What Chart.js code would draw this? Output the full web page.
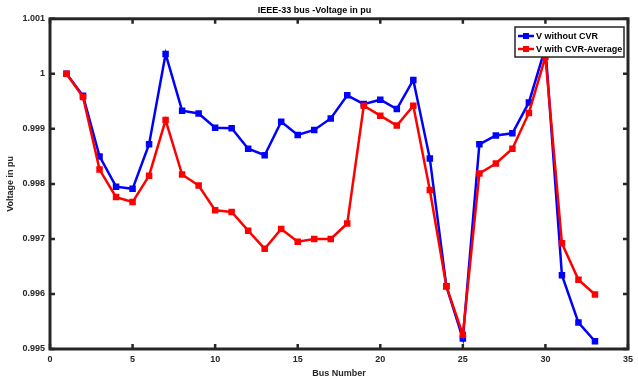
<!DOCTYPE html>
<html>
<head>
<meta charset="utf-8">
<script src="https://cdn.jsdelivr.net/npm/chart.js@4"></script>
<style>
  html, body { margin: 0; padding: 0; background: #fff; }
  #wrap { width: 638px; height: 379px; }
</style>
</head>
<body>
<div id="wrap"><canvas id="myChart" width="638" height="379"></canvas></div>
<script>
// bus numbers 1..33
const busNo = [1,2,3,4,5,6,7,8,9,10,11,12,13,14,15,16,17,18,19,20,21,22,23,24,25,26,27,28,29,30,31,32,33];

const vNoCvr = [1.0000, 0.99960, 0.99850, 0.99795, 0.99791, 0.99872, 1.00036, 0.99933, 0.99928, 0.99902,
                0.99901, 0.99864, 0.99852, 0.99913, 0.99889, 0.99898, 0.99919, 0.99961, 0.99945, 0.99953,
                0.99936, 0.99989, 0.99846, 0.99614, 0.99519, 0.99872, 0.99888, 0.99892, 0.99948, 1.00048,
                0.99634, 0.99548, 0.99514];

const vCvrAvg = [1.0000, 0.99958, 0.99826, 0.99776, 0.99767, 0.99815, 0.99916, 0.99817, 0.99797, 0.99752,
                 0.99749, 0.99715, 0.99682, 0.99718, 0.99695, 0.99700, 0.99700, 0.99728, 0.99942, 0.99924,
                 0.99906, 0.99942, 0.99789, 0.99614, 0.99526, 0.99819, 0.99837, 0.99864, 0.99929, 1.00031,
                 0.99692, 0.99626, 0.99599];

const xTicks = [0, 5, 10, 15, 20, 25, 30, 35];
const yTicks = [0.995, 0.996, 0.997, 0.998, 0.999, 1.000, 1.001];

const txtColor = '#262626';
const fontFam = '"Liberation Sans", Arial, sans-serif';

function toPts(ys) {
    return busNo.map((b, i) => ({ x: b, y: ys[i] }));
}

// frame + inward ticks on all sides, MATLAB style
const boxPlugin = {
    id: 'boxPlugin',
    afterDraw(chart) {
        const ctx = chart.ctx;
        const a = chart.chartArea;
        const sx = chart.scales.x, sy = chart.scales.y;
        ctx.save();
        ctx.strokeStyle = txtColor;
        ctx.lineWidth = 2.5;
        ctx.lineCap = 'butt';
        ctx.beginPath();
        xTicks.forEach(t => {
            const px = sx.getPixelForValue(t);
            ctx.moveTo(px, a.bottom); ctx.lineTo(px, a.bottom - 5);
            ctx.moveTo(px, a.top); ctx.lineTo(px, a.top + 5);
        });
        yTicks.forEach(t => {
            const py = sy.getPixelForValue(t);
            ctx.moveTo(a.left, py); ctx.lineTo(a.left + 5, py);
            ctx.moveTo(a.right, py); ctx.lineTo(a.right - 5, py);
        });
        ctx.stroke();
        ctx.lineWidth = 3;
        ctx.strokeRect(a.left, a.top, a.right - a.left, a.bottom - a.top);

        // legend box
        const lx = 515, ly = 27, lw = 109, lh = 30;
        ctx.fillStyle = '#fff';
        ctx.fillRect(lx, ly, lw, lh);
        ctx.lineWidth = 1.5;
        ctx.strokeRect(lx, ly, lw, lh);
        ctx.font = 'bold 9px ' + fontFam;
        ctx.textBaseline = 'middle';
        chart.data.datasets.forEach((ds, i) => {
            const yy = 36 + i * 13;
            ctx.strokeStyle = ds.borderColor;
            ctx.lineWidth = 2.5;
            ctx.beginPath();
            ctx.moveTo(518, yy); ctx.lineTo(534, yy);
            ctx.stroke();
            ctx.fillStyle = ds.borderColor;
            ctx.fillRect(523, yy - 3, 6, 6);
            ctx.fillStyle = '#000';
            ctx.fillText(ds.label, 536, yy + 0.5);
        });
        ctx.restore();
    }
};

const ctx = document.getElementById('myChart').getContext('2d');
const myChart = new Chart(ctx, {
    type: 'line',
    data: {
        datasets: [
            {
                label: 'V without CVR',
                data: toPts(vNoCvr),
                borderColor: '#0000ff',
                backgroundColor: '#0000ff',
                borderWidth: 2.5,
                pointStyle: 'rect',
                pointRadius: 4.6,
                pointBorderWidth: 0,
                tension: 0,
                order: 1
            },
            {
                label: 'V with CVR-Average',
                data: toPts(vCvrAvg),
                borderColor: '#ff0000',
                backgroundColor: '#ff0000',
                borderWidth: 2.5,
                pointStyle: 'rect',
                pointRadius: 4.6,
                pointBorderWidth: 0,
                tension: 0,
                order: 0
            }
        ]
    },
    options: {
        responsive: false,
        animation: false,
        layout: { padding: { left: 0, right: 9, top: 0, bottom: 0 } },
        plugins: {
            legend: { display: false },
            tooltip: { enabled: false },
            title: {
                display: true,
                text: 'IEEE-33 bus -Voltage in pu',
                color: '#000',
                font: { family: fontFam, size: 9, weight: 'bold', lineHeight: 1.2 },
                padding: { top: 5, bottom: 3 }
            }
        },
        scales: {
            x: {
                type: 'linear',
                min: 0, max: 35,
                afterBuildTicks: s => { s.ticks = xTicks.map(v => ({ value: v })); },
                ticks: {
                    color: txtColor,
                    font: { family: fontFam, size: 9, weight: 'bold' },
                    padding: 5,
                    maxRotation: 0
                },
                grid: { display: false, drawTicks: false },
                border: { display: false },
                title: {
                    display: true,
                    text: 'Bus Number',
                    color: txtColor,
                    font: { family: fontFam, size: 9, weight: 'bold' },
                    padding: { top: 2, bottom: 0 }
                },
                afterFit: s => { s.height = 30; }
            },
            y: {
                type: 'linear',
                min: 0.995, max: 1.001,
                afterBuildTicks: s => { s.ticks = yTicks.map(v => ({ value: v })); },
                ticks: {
                    color: txtColor,
                    font: { family: fontFam, size: 9, weight: 'bold' },
                    padding: 5,
                    callback: v => String(parseFloat(v.toFixed(3)))
                },
                grid: { display: false, drawTicks: false },
                border: { display: false },
                title: {
                    display: true,
                    text: 'Voltage in pu',
                    color: txtColor,
                    font: { family: fontFam, size: 9, weight: 'bold' },
                    padding: { top: 5, bottom: 4 }
                },
                afterFit: s => { s.width = 50; }
            }
        }
    },
    plugins: [boxPlugin]
});
</script>
</body>
</html>
